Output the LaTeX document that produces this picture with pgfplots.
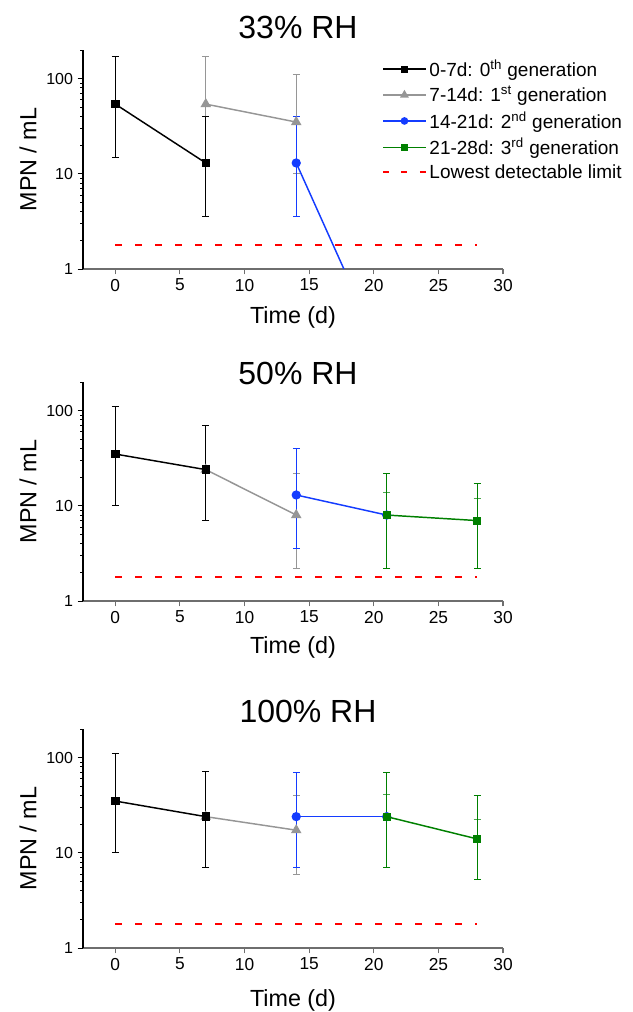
\documentclass[border=0pt]{standalone}
\usepackage{fontspec}
\setmainfont{Liberation Sans}
\usepackage{pgfplots}
\pgfplotsset{compat=1.18}
\definecolor{cblk}{RGB}{0,0,0}
\definecolor{cgry}{RGB}{150,150,150}
\definecolor{cblu}{RGB}{20,60,255}
\definecolor{cgrn}{RGB}{0,128,0}
\definecolor{cred}{RGB}{255,0,0}
\definecolor{axgray}{RGB}{110,110,110}

\pgfplotsset{
  every axis/.append style={
    scale only axis, width=315pt, height=164.25pt,
    xmin=-2.5, xmax=30, ymin=1, ymax=200,
    axis x line*=bottom, axis y line*=left,
    xtick={0,5,10,15,20,25,30}, ytick={1,10,100}, yticklabels={1,10,100},
    minor ytick={2,3,4,5,6,7,8,9,20,30,40,50,60,70,80,90,200},
    tick align=outside, major tick length=4pt, minor tick length=2.2pt,
    xticklabel style={font=\fontsize{13}{15}\selectfont, /pgf/number format/assume math mode=true},
    yticklabel style={font=\fontsize{12}{14}\selectfont},
    every outer x axis line/.append style={draw=axgray, line width=1.1pt},
    every outer y axis line/.append style={draw=black, line width=0.8pt},
    every x tick/.append style={draw=axgray, line width=0.8pt},
    every y tick/.append style={draw=black, line width=0.7pt},
    every minor y tick/.append style={draw=black, line width=0.6pt},
    xlabel={Time (d)}, ylabel={MPN / mL},
    every axis label/.append style={font=\fontsize{17.5}{20}\selectfont},
    every axis y label/.append style={at={(axis description cs:-0.131,0.5)}, anchor=center},
    error bars/error bar style={line width=0.75pt},
    error bars/error mark options={rotate=90, line width=0.75pt, mark size=2.6pt},
  },
}

\begin{document}
\begin{tikzpicture}
\path[use as bounding box] (0,0) rectangle (474pt,-759pt);

% 33% RH
\node[font=\fontsize{24}{28}\selectfont] at (223.5pt,-20.25pt) {33\% RH};
\begin{semilogyaxis}[anchor=south west, at={(62.25pt,-201.75pt)},
  xlabel style={at={(axis description cs:0.5,0)}, anchor=base, yshift=-40.5pt},
  legend style={at={(axis description cs:0.702,0.981)}, anchor=north west,
    draw=none, fill=none, font=\fontsize{14.25}{16}\selectfont, row sep=1.9pt},
  legend cell align=left,
  legend image code/.code={\draw[mark repeat=2,mark phase=2,#1] plot coordinates {(0pt,0pt) (16pt,0pt) (32pt,0pt)};}]
\addlegendimage{cblk, line width=1.1pt, mark=square*, mark size=2.1pt}
\addlegendentry{0-7d: 0\textsuperscript{th} generation}
\addlegendimage{cgry, line width=1.1pt, mark=triangle*, mark size=2.8pt}
\addlegendentry{7-14d: 1\textsuperscript{st} generation}
\addlegendimage{cblu, line width=1.1pt, mark=*, mark size=2.3pt}
\addlegendentry{14-21d: 2\textsuperscript{nd} generation}
\addlegendimage{cgrn, line width=1.2pt, mark=square*, mark size=2.1pt}
\addlegendentry{21-28d: 3\textsuperscript{rd} generation}
\addlegendimage{cred, line width=1.5pt, dash pattern=on 4.5pt off 9.25pt}
\addlegendentry{Lowest detectable limit}
\addplot[forget plot, cred, line width=1.5pt, dash pattern=on 5pt off 10pt] coordinates {(0,1.8) (28,1.8)};
\addplot[forget plot, cgry, line width=1.1pt, mark=triangle*, mark size=3.5pt,
  error bars/.cd, y dir=both, y explicit] coordinates {
  (7,54) += (0,116) -= (0,42)
  (14,35) += (0,75) -= (0,25)};
\addplot[forget plot, cblk, line width=1.1pt, mark=square*, mark size=2.6pt,
  error bars/.cd, y dir=both, y explicit] coordinates {
  (0,54) += (0,116) -= (0,39)
  (7,13) += (0,27) -= (0,9.4)};
\addplot[forget plot, cblu, line width=1.1pt, mark=*, mark size=2.9pt,
  error bars/.cd, y dir=both, y explicit] coordinates {
  (14,13) += (0,27) -= (0,9.4)
  (21,0.1) += (0,0) -= (0,0)};
\addplot[forget plot, cgrn, line width=1.1pt, mark=square*, mark size=2.5pt] coordinates {
  (21,0.1) (28,0.1)};
\end{semilogyaxis}

% 50% RH
\node[font=\fontsize{24}{28}\selectfont] at (223.5pt,-280.1pt) {50\% RH};
\begin{semilogyaxis}[anchor=south west, at={(62.25pt,-450.75pt)},
  xlabel style={at={(axis description cs:0.5,0)}, anchor=base, yshift=-39pt}]
\addplot[cred, line width=1.5pt, dash pattern=on 5pt off 10pt] coordinates {(0,1.8) (28,1.8)};
\addplot[cgry, line width=1.1pt, mark=triangle*, mark size=3.5pt,
  error bars/.cd, y dir=both, y explicit] coordinates {
  (7,24) += (0,46) -= (0,17)
  (14,8) += (0,14) -= (0,5.8)};
\addplot[cblk, line width=1.1pt, mark=square*, mark size=2.6pt,
  error bars/.cd, y dir=both, y explicit] coordinates {
  (0,35) += (0,75) -= (0,25)
  (7,24) += (0,46) -= (0,17)};
\addplot[cblu, line width=1.1pt, mark=*, mark size=2.9pt,
  error bars/.cd, y dir=both, y explicit] coordinates {
  (14,13) += (0,27) -= (0,9.4)
  (21,8) += (0,14) -= (0,5.8)};
\addplot[cgrn!70, only marks, mark=none,
  error bars/.cd, y dir=plus, y explicit] coordinates {
  (21,8) += (0,5.7)
  (28,7) += (0,4.8)};
\addplot[cgrn, line width=1.1pt, mark=square*, mark size=2.5pt,
  error bars/.cd, y dir=both, y explicit] coordinates {
  (21,8) += (0,14) -= (0,5.8)
  (28,7) += (0,10) -= (0,4.8)};
\end{semilogyaxis}

% 100% RH
\node[font=\fontsize{24}{28}\selectfont] at (231pt,-533.6pt) {100\% RH};
\begin{semilogyaxis}[anchor=south west, at={(62.25pt,-711pt)},
  xlabel style={at={(axis description cs:0.5,0)}, anchor=base, yshift=-43.5pt}]
\addplot[cred, line width=1.5pt, dash pattern=on 5pt off 10pt] coordinates {(0,1.8) (28,1.8)};
\addplot[cgry, line width=1.1pt, mark=triangle*, mark size=3.5pt,
  error bars/.cd, y dir=both, y explicit] coordinates {
  (7,24) += (0,47) -= (0,17)
  (14,17.3) += (0,22.7) -= (0,11.45)};
\addplot[cblk, line width=1.1pt, mark=square*, mark size=2.6pt,
  error bars/.cd, y dir=both, y explicit] coordinates {
  (0,35) += (0,75) -= (0,25)
  (7,24) += (0,47) -= (0,17)};
\addplot[cblu, line width=1.1pt, mark=*, mark size=2.9pt,
  error bars/.cd, y dir=both, y explicit] coordinates {
  (14,24) += (0,46) -= (0,17)
  (21,24) += (0,46) -= (0,17)};
\addplot[cgrn!70, only marks, mark=none,
  error bars/.cd, y dir=plus, y explicit] coordinates {
  (21,24) += (0,16.7)
  (28,14) += (0,8.6)};
\addplot[cgrn, line width=1.1pt, mark=square*, mark size=2.5pt,
  error bars/.cd, y dir=both, y explicit] coordinates {
  (21,24) += (0,46) -= (0,17)
  (28,14) += (0,26) -= (0,8.8)};
\end{semilogyaxis}
\end{tikzpicture}
\end{document}
